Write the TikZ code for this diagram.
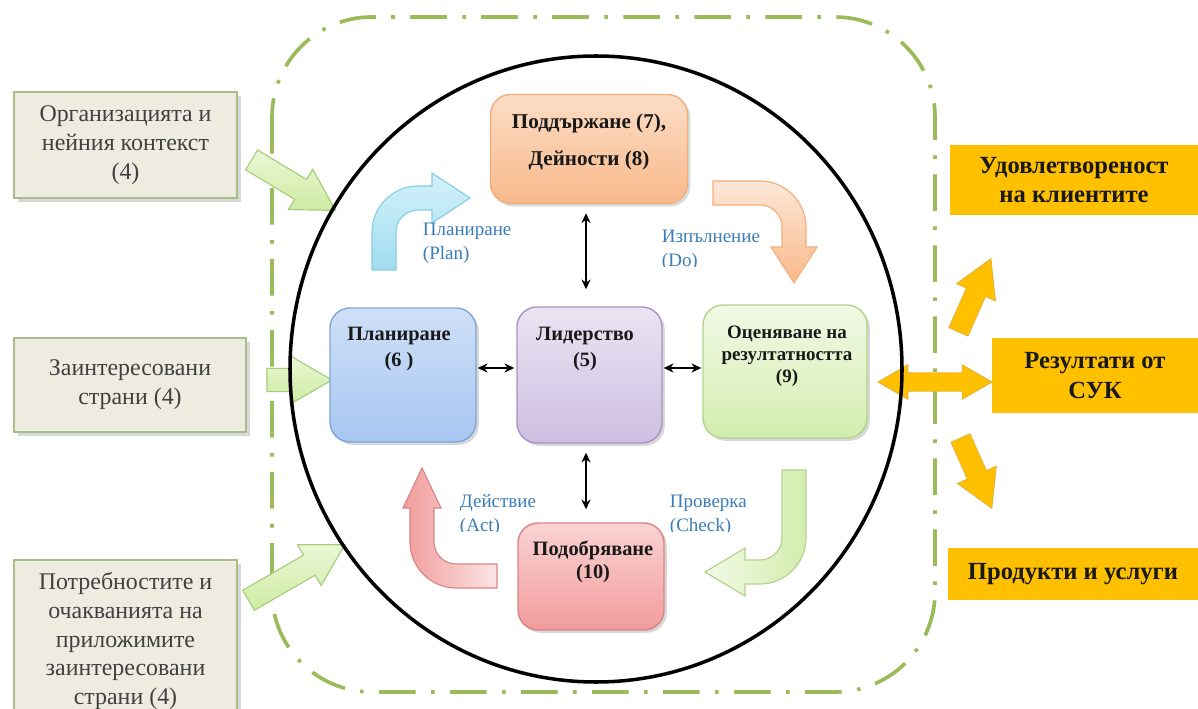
\documentclass[tikz,border=0pt]{standalone}
\usepackage{fontspec}
\setmainfont{Liberation Serif}
\usetikzlibrary{shapes.arrows,shadows,arrows.meta}
\definecolor{dashgreen}{HTML}{9BBB59}
\definecolor{leftfill}{HTML}{EEECE1}
\definecolor{leftdraw}{HTML}{A9BD86}
\definecolor{txtgray}{HTML}{404040}
\definecolor{orTop}{HTML}{FCDDC6}
\definecolor{orBot}{HTML}{F8B98A}
\definecolor{orDraw}{HTML}{F2AE7E}
\definecolor{blTop}{HTML}{CFE0F7}
\definecolor{blBot}{HTML}{A7C6F2}
\definecolor{blDraw}{HTML}{7EA6D8}
\definecolor{puTop}{HTML}{EAE4F2}
\definecolor{puBot}{HTML}{CDBFE2}
\definecolor{puDraw}{HTML}{A793C5}
\definecolor{grTop}{HTML}{F2F9E6}
\definecolor{grBot}{HTML}{D3EDAE}
\definecolor{grDraw}{HTML}{B3D38B}
\definecolor{reTop}{HTML}{FAD3D3}
\definecolor{reBot}{HTML}{F29B9B}
\definecolor{reDraw}{HTML}{D98585}
\definecolor{cyTop}{HTML}{D3F1FA}
\definecolor{cyBot}{HTML}{A2DCF0}
\definecolor{cyDraw}{HTML}{86CDE6}
\definecolor{lblblue}{HTML}{3A7DB8}
\definecolor{gold}{HTML}{FFC000}
\definecolor{golddraw}{HTML}{E6B13A}
\definecolor{inTop}{HTML}{EAF7D6}
\definecolor{inBot}{HTML}{CFEBA3}
\definecolor{inDraw}{HTML}{A6CD7A}
\newcommand{\pu}[1]{#1*0.025cm}
\tikzset{
  leftbox/.style={draw=leftdraw, line width=1.3pt, fill=leftfill,
    drop shadow={shadow xshift=2.5pt, shadow yshift=-2.5pt, opacity=0.3},
    align=center, text=txtgray, font=\fontsize{17}{20.5}\selectfont, inner sep=0pt},
  cbox/.style={rounded corners=0.5cm, line width=1pt,
    drop shadow={shadow xshift=2pt, shadow yshift=-2pt, opacity=0.3}},
  ctext/.style={align=center, text=black!90, font=\bfseries\fontsize{14.5}{17.8}\selectfont},
  lbl/.style={align=left, anchor=west, text=lblblue, font=\fontsize{13.5}{17}\selectfont},
  obox/.style={fill=gold, align=center, text=black!90, font=\bfseries\fontsize{17.5}{21}\selectfont, inner sep=0pt},
  inarrow/.style={single arrow, draw=inDraw, line width=0.8pt, top color=inTop, bottom color=inBot,
    inner xsep=0pt, inner ysep=0.275cm, single arrow head extend=0.3cm, single arrow tip angle=60},
  outarrow/.style={single arrow, draw=golddraw, fill=gold, line width=0.6pt,
    inner xsep=0pt, inner ysep=0.25cm, single arrow head extend=0.27cm, single arrow tip angle=60},
  biarrow/.style={{Stealth[length=7pt,width=6.5pt]}-{Stealth[length=7pt,width=6.5pt]}, line width=1.1pt},
  dashdotline/.style={draw=dashgreen, line width=2.6pt, dash pattern=on 26pt off 11pt on 2.5pt off 11pt},
  bent/.style={line width=0.8pt, line join=miter}
}
\begin{document}
\begin{tikzpicture}[x=0.025cm,y=-0.025cm]
\useasboundingbox (0,0) rectangle (1198,709);
\clip (0,0) rectangle (1198,709);
\fill[white] (0,0) rectangle (1198,709);

% dash-dot frame
\draw[dashdotline, rounded corners=2.5cm] (272,17) rectangle (935,692);

% left boxes
\node[leftbox, minimum width=\pu{223}, minimum height=\pu{106}] (org) at (125.5,145) {Организацията и\\нейния контекст\\(4)};
\node[leftbox, minimum width=\pu{232}, minimum height=\pu{94}] (stake) at (130,385) {Заинтересовани\\страни (4)};
\node[leftbox, minimum width=\pu{223}, minimum height=\pu{162}] (needs) at (125.5,641) {Потребностите и\\очакванията на\\приложимите\\заинтересовани\\страни (4)};

% green input arrows
\node[inarrow, minimum height=2.45cm, rotate=-31] (ga1) at (285,180) {};
\node[inarrow, minimum height=1.625cm] (ga2) at (289.5,380) {};
\node[inarrow, minimum height=2.775cm, rotate=30] (ga3) at (288,577.5) {};

% orange output arrows
\node[outarrow, minimum height=2.0cm, rotate=66] (oa1) at (971,303.5) {};
\node[outarrow, minimum height=1.925cm, rotate=-66] (oa2) at (972.5,465) {};
\node[double arrow, draw=golddraw, fill=gold, line width=0.6pt, inner xsep=0pt, inner ysep=0.22cm,
  minimum height=2.85cm, double arrow head extend=0.2cm,
  double arrow tip angle=60] (oa3) at (935,382) {};

% big circle
\draw[line width=2.5pt] (596,369) ellipse [x radius=306, y radius=313];

% output boxes
\node[obox, minimum width=\pu{248}, minimum height=\pu{70}] (sat) at (1074,180) {Удовлетвореност\\на клиентите};
\node[obox, minimum width=\pu{206}, minimum height=\pu{75}] (res) at (1095,375.5) {Резултати от\\СУК};
\node[obox, minimum width=\pu{250}, minimum height=\pu{52}] (prod) at (1073,574) {Продукти и услуги};

% centre boxes
\node[cbox, top color=orTop, bottom color=orBot, draw=orDraw, minimum width=\pu{197}, minimum height=\pu{109}] (supp) at (589,149) {};
\node[ctext, font=\bfseries\fontsize{15}{26}\selectfont] (supptxt) at (589,142) {Поддържане (7),\\Дейности (8)};
\node[cbox, top color=blTop, bottom color=blBot, draw=blDraw, minimum width=\pu{146}, minimum height=\pu{134}] (plan) at (403,375) {};
\node[ctext] (plantxt) at (399,349) {Планиране\\(6 )};
\node[cbox, top color=puTop, bottom color=puBot, draw=puDraw, minimum width=\pu{145}, minimum height=\pu{136}] (lead) at (589.5,375) {};
\node[ctext] (leadtxt) at (585,349) {Лидерство\\(5)};
\node[cbox, top color=grTop, bottom color=grBot, draw=grDraw, minimum width=\pu{164}, minimum height=\pu{133}] (eval) at (785,371.5) {};
\node[ctext, font=\bfseries\fontsize{13.5}{15.5}\selectfont] (evaltxt) at (787,356) {Оценяване на\\резултатността\\(9)};
\node[cbox, top color=reTop, bottom color=reBot, draw=reDraw, minimum width=\pu{146}, minimum height=\pu{107}] (impr) at (591,576.5) {};
\node[ctext, font=\bfseries\fontsize{14.5}{16}\selectfont] (imprtxt) at (593,562) {Подобряване\\(10)};

% black double arrows
\draw[biarrow, shorten <=\pu{9}, shorten >=\pu{17}] ([xshift=-0.075cm]supp.south) -- ([xshift=-0.0875cm]lead.north);
\draw[biarrow, shorten <=\pu{9}, shorten >=\pu{13}] ([xshift=-0.0875cm]lead.south) -- ([xshift=-0.125cm]impr.north);
\draw[biarrow, shorten <=\pu{1}, shorten >=\pu{2}] ([yshift=0.175cm]plan.east) -- ([yshift=0.175cm]lead.west);
\draw[biarrow, shorten <=\pu{1}, shorten >=\pu{1}] ([yshift=0.175cm]lead.east) -- ([yshift=0.0875cm]eval.west);

% bent PDCA arrows
\draw[bent, top color=cyTop, bottom color=cyBot, draw=cyDraw]
  (372,270) -- (372,232) .. controls (372,206.7) and (392.7,186) .. (418,186) -- (432,186) -- (432,173)
  -- (470,198) -- (432,223) -- (432,210) -- (418,210) .. controls (405.9,210) and (396,219.9) .. (396,232)
  -- (396,270) -- cycle;
\draw[bent, top color=orTop!70!white, bottom color=orBot, draw=orDraw]
  (713,181) -- (760,181) .. controls (785.3,181) and (806,201.7) .. (806,227) -- (806,247) -- (817,247)
  -- (794,283) -- (771,247) -- (782,247) -- (782,227) .. controls (782,214.9) and (772.1,205) .. (760,205)
  -- (713,205) -- cycle;
\draw[bent, left color=reBot, right color=reTop!60!white, draw=reDraw]
  (422,468) -- (441,508) -- (434,508) -- (434,542) .. controls (434,554.1) and (443.9,564) .. (456,564)
  -- (497,564) -- (497,588) -- (456,588) .. controls (430.7,588) and (410,567.3) .. (410,542)
  -- (410,508) -- (403,508) -- cycle;
\draw[bent, left color=grTop, right color=grBot, draw=grDraw]
  (782,470) -- (806,470) -- (806,538) .. controls (806,563.3) and (785.3,584) .. (760,584) -- (745,584)
  -- (745,596) -- (705,572) -- (745,548) -- (745,560) -- (760,560) .. controls (772.1,560) and (782,549.9) .. (782,538)
  -- cycle;

% PDCA labels
\node[lbl] (lplan) at (418,243) {Планиране\\(Plan)};
\begin{scope}
\clip (640,220) rectangle (770,267);
\node[lbl] (ldo) at (657,250) {Изпълнение\\(Do)};
\end{scope}
\begin{scope}
\clip (440,485) rectangle (800,531);
\node[lbl] (lact) at (455,515) {Действие\\(Act)};
\node[lbl] (lcheck) at (665,515) {Проверка\\(Check)};
\end{scope}
\end{tikzpicture}
\end{document}
